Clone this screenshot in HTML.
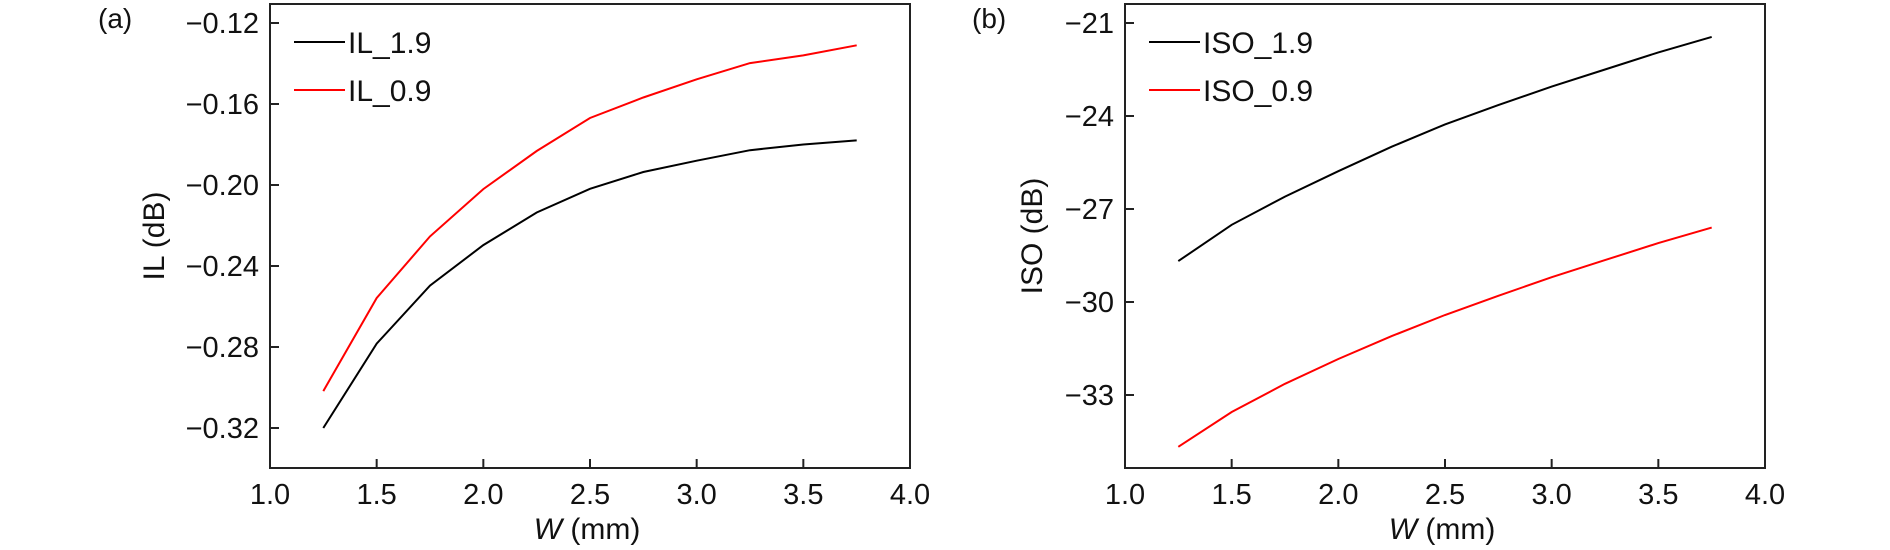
<!DOCTYPE html>
<html><head><meta charset="utf-8"><style>
html,body{margin:0;padding:0;background:#fff;}
svg{display:block;font-family:"Liberation Sans",sans-serif;}
</style></head><body>
<svg id="c" width="1890" height="550" viewBox="0 0 1890 550"></svg>
<script>
const xValues=[1.25,1.5,1.75,2.0,2.25,2.5,2.75,3.0,3.25,3.5,3.75];
const il19=[-0.320,-0.2783,-0.2497,-0.2297,-0.2136,-0.2019,-0.1936,-0.188,-0.1828,-0.180,-0.178];
const il09=[-0.3018,-0.2558,-0.2254,-0.202,-0.1832,-0.1669,-0.1568,-0.1478,-0.1398,-0.136,-0.131];
const iso19=[-28.68,-27.51,-26.6,-25.78,-24.99,-24.27,-23.65,-23.05,-22.5,-21.95,-21.45];
const iso09=[-34.67,-33.55,-32.64,-31.84,-31.1,-30.42,-29.8,-29.2,-28.65,-28.1,-27.6];
const xTicks=[1.0,1.5,2.0,2.5,3.0,3.5,4.0];
const ilTicks=[-0.12,-0.16,-0.20,-0.24,-0.28,-0.32];
const isoTicks=[-21,-24,-27,-30,-33];
const NS='http://www.w3.org/2000/svg';
const svg=document.getElementById('c');
function el(t,a,p){const e=document.createElementNS(NS,t);for(const k in a)e.setAttribute(k,a[k]);(p||svg).appendChild(e);return e;}
function panel(o){
  const g=el('g',{});
  
  
  const L=o.left,R=o.left+640,T=4,B=468;
  const sx=v=>L+(v-1)/3*640;
  const sy=v=>o.y0+(o.v0-v)/o.step*o.pxStep;
  const frame=el('rect',{x:L,y:T,width:R-L,height:B-T,fill:'none',stroke:'#222','stroke-width':2},g);
  
  
  xTicks.forEach(v=>{
    const x=sx(v);
    if(v>1&&v<4){const t=el('line',{x1:x,y1:B,x2:x,y2:B-9,stroke:'#222','stroke-width':2},g);
    }
    const tx=el('text',{x:x,y:B+36,'font-size':29,'text-anchor':'middle',fill:'#111'},g);
    tx.textContent=v.toFixed(1);
    
    
  });
  o.ticks.forEach(v=>{
    const y=sy(v);
    const t=el('line',{x1:L,y1:y,x2:L+9,y2:y,stroke:'#222','stroke-width':2},g);
    
    const tx=el('text',{x:L-11,y:y+10,'font-size':29,'text-anchor':'end',fill:'#111'},g);
    tx.textContent=o.fmt(v);
    
    
  });
  o.series.forEach((s,i)=>{
    const pts=xValues.map((x,j)=>sx(x).toFixed(1)+','+sy(s.data[j]).toFixed(1)).join(' ');
    const pl=el('polyline',{points:pts,fill:'none',stroke:s.color,'stroke-width':2},g);
    
    
    const ly=42+i*48;
    const ll=el('line',{x1:L+24,y1:ly,x2:L+75,y2:ly,stroke:s.color,'stroke-width':2},g);
    
    
    const lt=el('text',{x:L+78,y:ly+11,'font-size':30,fill:'#111'},g);
    lt.textContent=s.label;
    
    
  });
  const yt=el('text',{x:0,y:0,'font-size':30,'text-anchor':'middle',fill:'#111',transform:`translate(${o.ytX},236) rotate(-90)`},g);
  yt.textContent=o.ytitle;
  
  
  const xt=el('text',{x:L+317,y:539,'font-size':30,'text-anchor':'middle',fill:'#111'},g);
  xt.innerHTML='<tspan font-style="italic">W</tspan> (mm)';
  
  
  const pl=el('text',{x:o.plX,y:28,'font-size':28,fill:'#111'},g);
  pl.textContent=o.plabel;
  
  
}
panel({name:'panel-a-il',left:270,y0:23,v0:-0.12,step:0.04,pxStep:81,ticks:ilTicks,fmt:v=>'\u2212'+Math.abs(v).toFixed(2),
  series:[{label:'IL_1.9',color:'#000',data:il19},{label:'IL_0.9',color:'#f00',data:il09}],ytitle:'IL (dB)',ytX:164,plabel:'(a)',plX:98});
panel({name:'panel-b-iso',left:1125,y0:23,v0:-21,step:3,pxStep:93,ticks:isoTicks,fmt:v=>'\u2212'+Math.abs(v),
  series:[{label:'ISO_1.9',color:'#000',data:iso19},{label:'ISO_0.9',color:'#f00',data:iso09}],ytitle:'ISO (dB)',ytX:1042,plabel:'(b)',plX:972});
</script>
</body></html>
